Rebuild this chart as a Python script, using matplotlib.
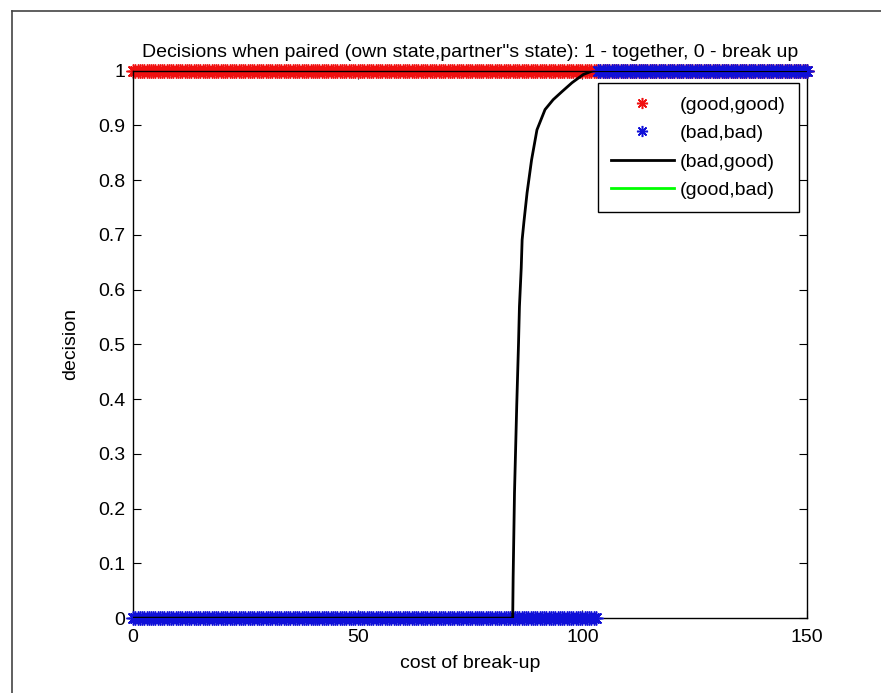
import numpy as np
import matplotlib
matplotlib.use("Agg")
import matplotlib.pyplot as plt
from matplotlib.lines import Line2D

plt.rcParams['font.family'] = ['Liberation Sans', 'DejaVu Sans']

# cost of break-up grid and decisions
cost = np.arange(0, 150.5, 0.5)
switch_cost = 103.5          # where (bad,bad) turns from 0 to 1
good_good = np.ones_like(cost)
bad_bad = np.where(cost < switch_cost, 0.0, 1.0)

# (bad,good) curve
bg_x = [0, 84.5, 84.6, 84.9, 85.4, 85.8, 86.0, 86.4, 86.6, 87.0, 87.7, 88.7,
        89.9, 91.7, 93.5, 95.5, 97.7, 100.2, 102.4, 150]
bg_y = [0, 0, 0.075, 0.229, 0.389, 0.503, 0.569, 0.640, 0.691, 0.724, 0.777,
        0.837, 0.892, 0.929, 0.947, 0.962, 0.978, 0.993, 1.0, 1.0]

# (good,bad): always together
gb_x = [0, 150]
gb_y = [1, 1]

fig = plt.figure(figsize=(8.81, 6.93), dpi=100)
ax = fig.add_axes([0.151, 0.108, 0.765, 0.79])

star = (8, 2, 0)
ax.plot(gb_x, gb_y, color='#00ff00', lw=2, zorder=1, label='(good,bad)')
ax.plot(cost, good_good, linestyle='none', marker=star, ms=10, mew=1.1,
        color='#f01010', label='(good,good)', zorder=2, clip_on=False)
ax.plot(cost, bad_bad, linestyle='none', marker=star, ms=10, mew=1.1,
        color='#1010d8', label='(bad,bad)', zorder=3, clip_on=False)
ax.plot(bg_x, bg_y, color='black', lw=2, label='(bad,good)', zorder=4)

ax.set_xlim(0, 150)
ax.set_ylim(0, 1)
ax.set_xticks([0, 50, 100, 150])
ax.set_yticks(np.round(np.arange(0, 1.01, 0.1), 1))
ax.set_yticklabels(['0', '0.1', '0.2', '0.3', '0.4', '0.5', '0.6', '0.7', '0.8', '0.9', '1'])
ax.tick_params(direction='in', length=6, top=True, right=True, labelsize=14)
ax.tick_params(axis='y', pad=5.5)
ax.tick_params(axis='x', pad=8)
for s in ax.spines.values():
    s.set_linewidth(1)

ax.set_title("Decisions when paired (own state,partner\"s state): 1 - together, 0 - break up",
             fontsize=14, pad=10)
ax.set_xlabel('cost of break-up', fontsize=14, labelpad=6)
ax.set_ylabel('decision', fontsize=14, labelpad=14)

h, l = ax.get_legend_handles_labels()
order = [1, 2, 3, 0]
leg = ax.legend([h[i] for i in order], [l[i] for i in order], loc='upper right',
                bbox_to_anchor=(0.988, 0.978), fontsize=14, handlelength=3.2,
                labelspacing=0.55, handletextpad=0.3, borderpad=0.7,
                borderaxespad=0, fancybox=False, framealpha=1, edgecolor='black')
leg.get_frame().set_linewidth(1)
for lh in leg.legend_handles[:2]:
    lh.set_markersize(8)

# outer frame of the screenshot
fig.add_artist(Line2D([11.5 / 881, 11.5 / 881], [0, 1 - 10.5 / 693],
                      transform=fig.transFigure, color='#444444', lw=1.2))
fig.add_artist(Line2D([11.5 / 881, 1], [1 - 10.5 / 693, 1 - 10.5 / 693],
                      transform=fig.transFigure, color='#444444', lw=1.2))

fig.savefig('out.png', dpi=100)
